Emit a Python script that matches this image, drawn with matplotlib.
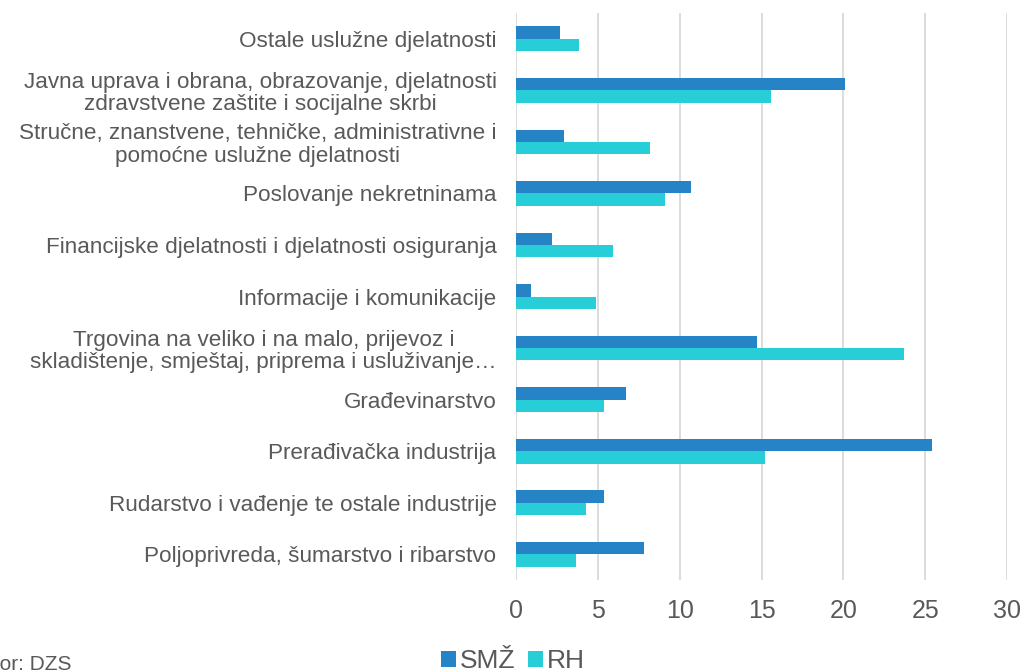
import matplotlib
matplotlib.use("Agg")
import matplotlib.pyplot as plt
import numpy as np

plt.rcParams['font.family'] = ['Liberation Sans', 'DejaVu Sans']

categories = [
    "Ostale uslužne djelatnosti",
    "Javna uprava i obrana, obrazovanje, djelatnosti\nzdravstvene zaštite i socijalne skrbi",
    "Stručne, znanstvene, tehničke, administrativne i\npomoćne uslužne djelatnosti",
    "Poslovanje nekretninama",
    "Financijske djelatnosti i djelatnosti osiguranja",
    "Informacije i komunikacije",
    "Trgovina na veliko i na malo, prijevoz i\nskladištenje, smještaj, priprema i usluživanje…",
    "Građevinarstvo",
    "Prerađivačka industrija",
    "Rudarstvo i vađenje te ostale industrije",
    "Poljoprivreda, šumarstvo i ribarstvo",
]
smz = [2.7, 20.1, 2.9, 10.7, 2.2, 0.9, 14.7, 6.7, 25.4, 5.35, 7.8]
rh = [3.85, 15.6, 8.2, 9.1, 5.95, 4.9, 23.7, 5.4, 15.2, 4.3, 3.65]
series_names = ["SMŽ", "RH"]
xticks = [0, 5, 10, 15, 20, 25, 30]

c_smz = "#2683C6"
c_rh = "#27CED7"
txt = "#595959"

fig = plt.figure(figsize=(10.28, 6.71), dpi=100)
ax = fig.add_axes([0.502, 0.1356, 0.4777, 0.845])

y = np.arange(len(categories))
h = 0.24
ax.barh(y - h / 2, smz, height=h, color=c_smz, label=series_names[0], zorder=3)
ax.barh(y + h / 2, rh, height=h, color=c_rh, label=series_names[1], zorder=3)

ax.set_xlim(0, 30)
ax.set_ylim(len(categories) - 0.5, -0.5)
ax.set_xticks(xticks)
ax.set_xticklabels([str(v) for v in xticks], fontsize=18, color=txt)
ax.set_yticks(y)
ax.set_yticklabels(categories, fontsize=16.2, color=txt)
for t in ax.get_yticklabels():
    t.set_multialignment('center')
    t.set_linespacing(1.1)
ax.tick_params(axis='x', length=0, pad=14)
ax.tick_params(axis='y', length=0, pad=14)
ax.grid(axis='x', color="#D9D9D9", linewidth=1.3, zorder=0)
for s in ax.spines.values():
    s.set_visible(False)

leg = fig.legend(loc='center', bbox_to_anchor=(0.499, 0.015), ncol=2, frameon=False,
                 fontsize=19, handlelength=0.55, handleheight=0.55, handletextpad=0.15,
                 columnspacing=0.5, labelcolor=txt)

fig.text(-0.026, 0.01, "Izvor: DZS", fontsize=15, color=txt, ha='left', va='center')

fig.savefig("out.png", dpi=100)
